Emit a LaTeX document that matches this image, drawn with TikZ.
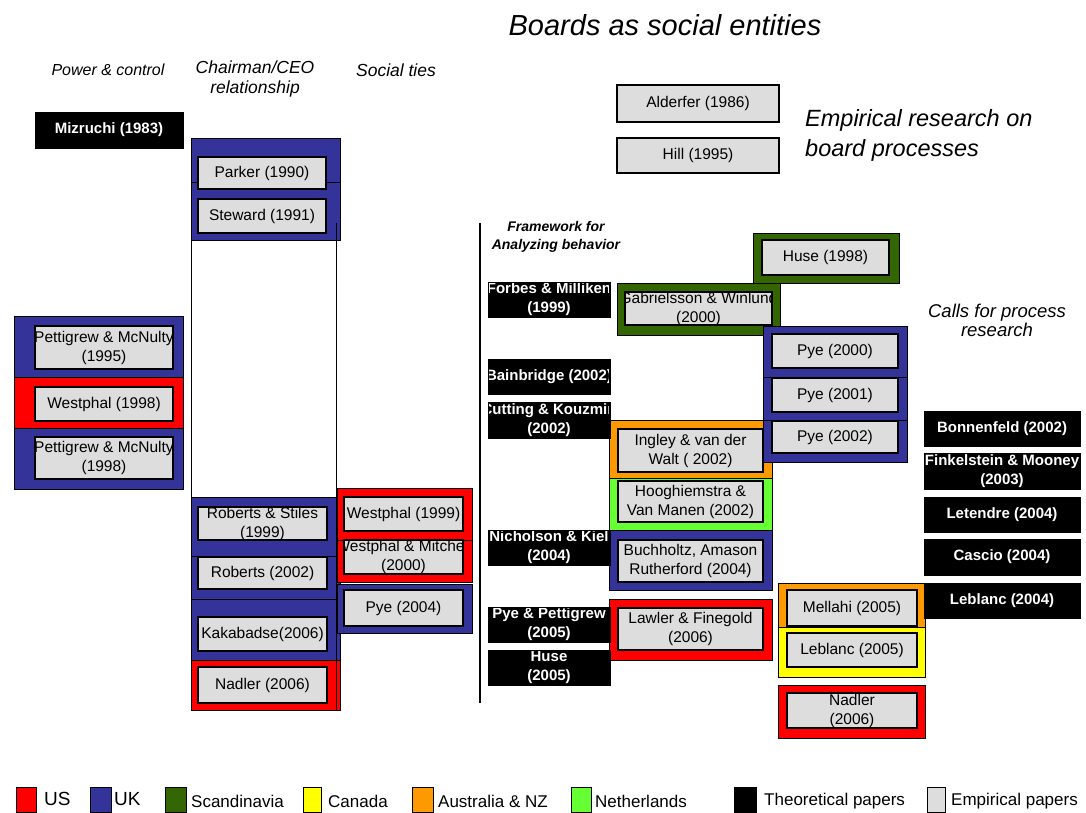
\documentclass[tikz,border=0pt]{standalone}
\usepackage{fontspec}
\setmainfont{Liberation Sans}
\definecolor{ukblue}{RGB}{51,51,153}
\definecolor{usred}{RGB}{255,0,0}
\definecolor{scgreen}{RGB}{51,102,0}
\definecolor{cayellow}{RGB}{255,255,0}
\definecolor{auorange}{RGB}{255,153,0}
\definecolor{nlgreen}{RGB}{102,255,51}
\definecolor{boxgray}{RGB}{221,221,221}
\newcommand\boxfont{\fontsize{15.5}{19}\selectfont}
\newcommand\theofont{\fontsize{15}{19}\selectfont\bfseries}
% frame: coloured background block
\newcommand\frm[6]{\node[frame, fill=#6, minimum width={(#4-#2)*1pt}, minimum height={(#5-#3)*1pt}] (#1) at ({(#2+#4)/2},{(#3+#5)/2}) {};}
% paper box: box drawn, text clipped to its inside
\newcommand\bx[7]{%
  \node[#1, minimum width={(#5-#3)*1pt}, minimum height={(#6-#4)*1pt}] (#2) at ({(#3+#5)/2},{(#4+#6)/2}) {};
  \begin{scope}
    \clip (#3+1.5,#4+1) rectangle (#5-1.5,#6-1);
    \node[#1, draw=none, fill=none, minimum width={(#5-#3)*1pt}, minimum height={(#6-#4)*1pt}] (#2-txt) at ({(#3+#5)/2},{(#4+#6)/2}) {#7};
  \end{scope}}
\tikzset{
  frame/.style={draw=black, line width=1pt, inner sep=0pt, outer sep=0pt},
  paper/.style={draw=black, line width=1.8pt, fill=boxgray, inner sep=0pt, outer sep=0pt, align=center, font=\boxfont},
  theo/.style={draw=black, line width=0.6pt, fill=black, text=white, inner sep=0pt, outer sep=0pt, align=center, font=\theofont},
  hdr/.style={font=\fontsize{15}{19}\selectfont\itshape, align=center, inner sep=0pt},
  legsq/.style={draw=black, line width=1pt, inner sep=0pt, outer sep=0pt},
  legtxt/.style={anchor=west, inner sep=0pt, font=\fontsize{17}{19}\selectfont}
}
\begin{document}
\begin{tikzpicture}[x=1pt,y=-1pt]
\path[use as bounding box, fill=white] (0,0) rectangle (1086,812);

% titles and headers
\node[font=\fontsize{29}{32}\selectfont\itshape, inner sep=0pt] (title) at (665,25) {Boards as social entities};
\node[hdr, font=\fontsize{16}{19}\selectfont\itshape] (h-power) at (108,70) {Power \& control};
\node[hdr, font=\fontsize{17.5}{20}\selectfont\itshape] (h-ceo) at (255,79) {Chairman/CEO\\relationship};
\node[hdr, font=\fontsize{17.5}{20}\selectfont\itshape] (h-social) at (396,70) {Social ties};
\node[anchor=west, align=left, inner sep=0pt, font=\fontsize{23.5}{30}\selectfont\itshape] (h-emp) at (805,135) {Empirical research on\\board processes};
\node[hdr, font=\fontsize{18.5}{19}\selectfont\itshape] (h-calls) at (997,320) {Calls for process\\research};
\node[hdr, font=\fontsize{14}{18}\selectfont\itshape\bfseries] (h-frame) at (556,237) {Framework for\\Analyzing behavior};

% chairman column white band
\draw[line width=1pt, fill=white] (191,240) rectangle (336,497);

% ---------- frames (country of the study) ----------
\frm{f-parker}{191}{138}{340}{182}{ukblue}
\frm{f-steward}{191}{182}{340}{240}{ukblue}
\frm{f-pm95}{14}{316}{183}{377}{ukblue}
\frm{f-west98}{14}{377}{183}{428}{usred}
\frm{f-pm98}{14}{428}{183}{489}{ukblue}
\frm{f-rs99}{191}{497}{340}{556}{ukblue}
\frm{f-rob02}{191}{556}{340}{599}{ukblue}
\frm{f-kak06}{191}{599}{340}{660}{ukblue}
\frm{f-nad06a}{191}{660}{340}{710}{usred}
\frm{f-west99}{337}{488}{472}{540}{usred}
\frm{f-wm00}{337}{540}{472}{582}{usred}
\frm{f-pye04}{337}{584}{472}{633}{ukblue}
\frm{f-huse98}{753}{233}{899}{283}{scgreen}
\frm{f-gab00}{617}{283}{780}{335}{scgreen}
\frm{f-ingley}{609}{420}{772}{478}{auorange}
\frm{f-hoog}{609}{478}{772}{530}{nlgreen}
\frm{f-buch}{609}{530}{772}{590}{ukblue}
\frm{f-lawler}{609}{599}{772}{660}{usred}
\frm{f-pye00}{763}{326}{907}{377}{ukblue}
\frm{f-pye01}{763}{377}{907}{420}{ukblue}
\frm{f-pye02}{763}{420}{907}{462}{ukblue}
\frm{f-mel05}{778}{583}{925}{627}{auorange}
\frm{f-leb05}{778}{627}{925}{677}{cayellow}
\frm{f-nad06b}{778}{685}{925}{738}{usred}

% vertical line of chairman band
\coordinate (cb-top) at (336,223);
\coordinate (cb-bot) at (336,710);
\draw[line width=1pt] (cb-top) -- (cb-bot);

% ---------- empirical papers ----------
\bx{paper}{parker}{198}{157}{326}{189}{Parker (1990)}
\bx{paper}{steward}{198}{199}{326}{233}{Steward (1991)}
\bx{paper}{pm95}{35}{326}{173}{369}{Pettigrew \& McNulty\\(1995)}
\bx{paper}{west98}{35}{387}{173}{421}{Westphal (1998)}
\bx{paper}{pm98}{35}{437}{173}{479}{Pettigrew \& McNulty\\(1998)}
\bx{paper}{rs99}{198}{507}{327}{540}{Roberts \& Stiles\\(1999)}
\bx{paper}{rob02}{198}{557}{327}{589}{Roberts (2002)}
\bx{paper}{kak06}{198}{617}{327}{651}{Kakabadse(2006)}
\bx{paper}{nad06a}{198}{667}{327}{703}{Nadler (2006)}
\bx{paper}{west99}{344}{497}{463}{531}{Westphal (1999)}
\bx{paper}{wm00}{344}{540}{463}{574}{Westphal \& Mitchell\\(2000)}
\bx{paper}{pye04}{344}{590}{463}{626}{Pye (2004)}
\bx{paper}{alderfer}{617}{85}{779}{122}{Alderfer (1986)}
\bx{paper}{hill}{617}{138}{779}{173}{Hill (1995)}
\bx{paper}{huse98}{762}{240}{889}{275}{Huse (1998)}
\bx{paper}{gab00}{625}{292}{772}{325}{Gabrielsson \& Winlund\\(2000)}
\bx{paper}{ingley}{618}{429}{763}{472}{Ingley \& van der\\Walt ( 2002)}
\bx{paper}{hoog}{618}{481}{763}{522}{Hooghiemstra \&\\Van Manen (2002)}
\bx{paper}{buch}{618}{540}{763}{582}{Buchholtz, Amason\\Rutherford (2004)}
\bx{paper}{lawler}{618}{608}{763}{650}{Lawler \& Finegold\\(2006)}
\bx{paper}{pye00}{772}{334}{898}{368}{Pye (2000)}
\bx{paper}{pye01}{772}{378}{898}{412}{Pye (2001)}
\bx{paper}{pye02}{772}{421}{898}{453}{Pye (2002)}
\bx{paper}{mel05}{787}{590}{917}{626}{Mellahi (2005)}
\bx{paper}{leb05}{787}{633}{917}{667}{Leblanc (2005)}
\bx{paper}{nad06b}{787}{693}{917}{728}{Nadler\\(2006)}

% ---------- theoretical papers ----------
\bx{theo}{mizruchi}{35}{112}{183}{148}{Mizruchi (1983)}
\bx{theo}{forbes}{488}{282}{610}{317}{Forbes \& Milliken\\(1999)}
\bx{theo}{bain}{488}{359}{610}{394}{Bainbridge (2002)}
\bx{theo}{cutting}{488}{402}{610}{438}{Cutting \& Kouzmin\\(2002)}
\bx{theo}{nich}{488}{530}{610}{565}{Nicholson \& Kiel\\(2004)}
\bx{theo}{pyepet}{488}{607}{610}{642}{Pye \& Pettigrew\\(2005)}
\bx{theo}{huse05}{488}{650}{610}{685}{Huse\\(2005)}
\bx{theo}{bonn}{924}{411}{1080}{446}{Bonnenfeld (2002)}
\bx{theo}{fink}{924}{453}{1080}{489}{Finkelstein \& Mooney\\(2003)}
\bx{theo}{letendre}{924}{497}{1080}{532}{Letendre (2004)}
\bx{theo}{cascio}{924}{539}{1080}{575}{Cascio (2004)}
\bx{theo}{leb04}{924}{583}{1080}{618}{Leblanc (2004)}

% divider
\coordinate (div-top) at (480,223);
\coordinate (div-bot) at (480,703);
\draw[line width=1.2pt] (div-top) -- (div-bot);

% ---------- legend ----------
\frm{l-us}{16}{787}{36}{812}{usred}
\node[legtxt, font=\fontsize{19}{21}\selectfont] (t-us) at (44,799) {US};
\frm{l-uk}{90}{787}{111}{812}{ukblue}
\node[legtxt, font=\fontsize{19}{21}\selectfont] (t-uk) at (114,799) {UK};
\frm{l-sc}{165}{787}{186}{812}{scgreen}
\node[legtxt] (t-sc) at (191,801) {Scandinavia};
\frm{l-ca}{303}{787}{321}{812}{cayellow}
\node[legtxt] (t-ca) at (328,801) {Canada};
\frm{l-au}{412}{787}{433}{812}{auorange}
\node[legtxt] (t-au) at (438,801) {Australia \& NZ};
\frm{l-nl}{571}{787}{591}{812}{nlgreen}
\node[legtxt] (t-nl) at (595,801) {Netherlands};
\frm{l-th}{734}{787}{756}{812}{black}
\node[legtxt] (t-th) at (764,801) {Theoretical papers};
\frm{l-em}{927}{787}{945}{812}{boxgray}
\node[legtxt] (t-em) at (951,801) {Empirical papers};
\end{tikzpicture}
\end{document}
